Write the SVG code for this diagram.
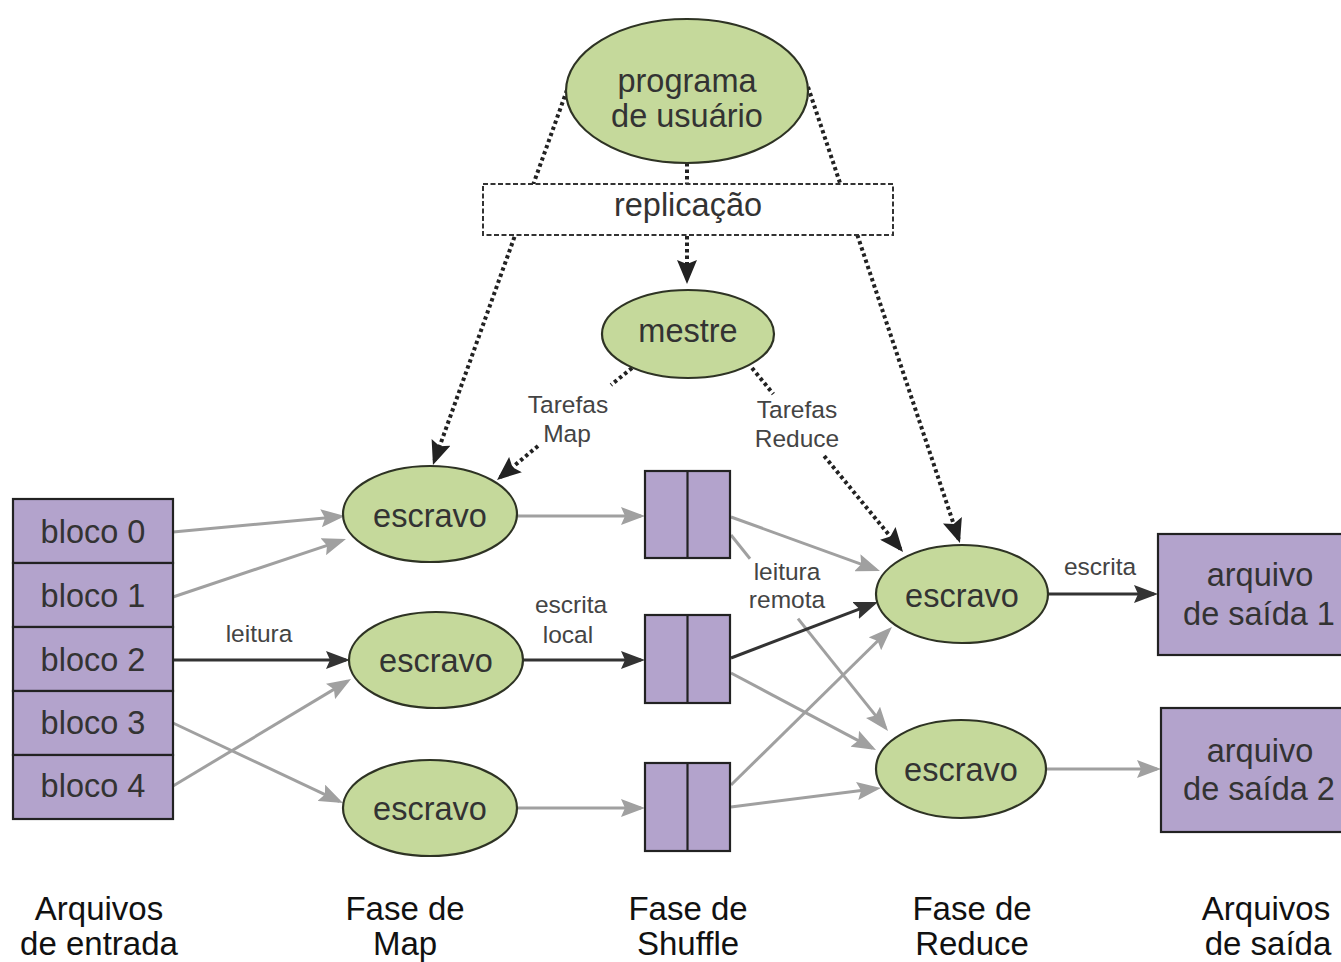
<svg xmlns="http://www.w3.org/2000/svg" width="1341" height="962" viewBox="0 0 1341 962">
<defs>
<style>
.ell{fill:#c5d99b;stroke:#2e3324;stroke-width:2.2}
.box{fill:#b3a3cc;stroke:#222;stroke-width:2.2}
.big{font-family:"Liberation Sans",Arial,sans-serif;font-size:32.5px;fill:#333;text-anchor:middle}
.lbl{font-family:"Liberation Sans",Arial,sans-serif;font-size:24.5px;fill:#444;text-anchor:middle}
.cap{font-family:"Liberation Sans",Arial,sans-serif;font-size:33px;fill:#111;text-anchor:middle}
.g{stroke:#a0a0a0;stroke-width:3;fill:none}
.k{stroke:#333;stroke-width:3;fill:none}
.d{stroke:#222;stroke-width:4;stroke-dasharray:3.4 3.1;fill:none}
</style>
<marker id="ag" markerWidth="24" markerHeight="18" refX="20" refY="9" orient="auto" markerUnits="userSpaceOnUse"><path d="M0,0 L24,9 L0,18 L4,9 Z" fill="#a0a0a0"/></marker>
<marker id="ak" markerWidth="24" markerHeight="18" refX="20" refY="9" orient="auto" markerUnits="userSpaceOnUse"><path d="M0,0 L24,9 L0,18 L4,9 Z" fill="#333"/></marker>
<marker id="ad" markerWidth="24" markerHeight="20" refX="20" refY="10" orient="auto" markerUnits="userSpaceOnUse"><path d="M0,0 L24,10 L0,20 L4,10 Z" fill="#222"/></marker>
</defs>
<rect width="1341" height="962" fill="#ffffff"/>

<g id="connectors">
<line class="d" x1="687" y1="163" x2="687" y2="184"/>
<line class="d" x1="687" y1="236" x2="687" y2="280" marker-end="url(#ad)"/>
<line class="d" x1="567" y1="90" x2="434.3" y2="461.2" marker-end="url(#ad)"/>
<line class="d" x1="808" y1="87" x2="958.7" y2="539.2" marker-end="url(#ad)"/>
<line class="d" x1="632" y1="368" x2="611" y2="385"/>
<line class="d" x1="538" y1="446" x2="500.1" y2="477.4" marker-end="url(#ad)"/>
<line class="d" x1="752" y1="368" x2="773.3" y2="394"/>
<line class="d" x1="824.2" y1="456" x2="900.5" y2="548.9" marker-end="url(#ad)"/>

<line class="g" x1="173" y1="532" x2="341" y2="516.4" marker-end="url(#ag)"/>
<line class="g" x1="173" y1="597" x2="342.2" y2="540.3" marker-end="url(#ag)"/>
<line class="k" x1="173" y1="660" x2="346" y2="660" marker-end="url(#ak)"/>
<line class="g" x1="173" y1="723" x2="339.4" y2="801.3" marker-end="url(#ag)"/>
<line class="g" x1="173" y1="786" x2="347.6" y2="681.1" marker-end="url(#ag)"/>

<line class="g" x1="517" y1="516" x2="641" y2="516" marker-end="url(#ag)"/>
<line class="k" x1="523" y1="660" x2="641" y2="660" marker-end="url(#ak)"/>
<line class="g" x1="516" y1="808" x2="641" y2="808" marker-end="url(#ag)"/>

<line class="g" x1="731" y1="517" x2="876.2" y2="569.6" marker-end="url(#ag)"/>
<line class="g" x1="731" y1="535" x2="750" y2="558.7"/>
<line class="g" x1="798" y1="618.6" x2="885.5" y2="727.9" marker-end="url(#ag)"/>
<line class="k" x1="731" y1="658" x2="874.3" y2="603.4" marker-end="url(#ak)"/>
<line class="g" x1="731" y1="673" x2="872.5" y2="748.1" marker-end="url(#ag)"/>
<line class="g" x1="731" y1="785" x2="889.1" y2="629.8" marker-end="url(#ag)"/>
<line class="g" x1="731" y1="807" x2="877" y2="788.5" marker-end="url(#ag)"/>

<line class="k" x1="1048" y1="594" x2="1154" y2="594" marker-end="url(#ak)"/>
<line class="g" x1="1046" y1="769" x2="1157" y2="769" marker-end="url(#ag)"/>

<text class="lbl" x="259" y="642">leitura</text>
<text class="lbl" x="571" y="613">escrita</text>
<text class="lbl" x="568" y="643">local</text>
<text class="lbl" x="787" y="580">leitura</text>
<text class="lbl" x="787" y="608">remota</text>
<text class="lbl" x="1100" y="575">escrita</text>
<text class="lbl" x="568" y="413">Tarefas</text>
<text class="lbl" x="567" y="442">Map</text>
<text class="lbl" x="797" y="418">Tarefas</text>
<text class="lbl" x="797" y="447">Reduce</text>
</g>

<g id="programa">
<ellipse class="ell" cx="687" cy="91" rx="121" ry="72"/>
<text class="big" x="687" y="92">programa</text>
<text class="big" x="687" y="127">de usuário</text>
</g>
<g id="replicacao">
<rect x="483" y="184" width="410" height="51" fill="#ffffff" stroke="#333" stroke-width="2" stroke-dasharray="5 2.5"/>
<text class="big" x="688" y="216">replicação</text>
</g>
<g id="mestre">
<ellipse class="ell" cx="688" cy="334" rx="86" ry="44"/>
<text class="big" x="688" y="342">mestre</text>
</g>

<g id="blocos">
<rect class="box" x="13" y="499" width="160" height="64"/>
<text class="big" x="93" y="543">bloco 0</text>
<rect class="box" x="13" y="563" width="160" height="64"/>
<text class="big" x="93" y="607">bloco 1</text>
<rect class="box" x="13" y="627" width="160" height="64"/>
<text class="big" x="93" y="671">bloco 2</text>
<rect class="box" x="13" y="691" width="160" height="64"/>
<text class="big" x="93" y="734">bloco 3</text>
<rect class="box" x="13" y="755" width="160" height="64"/>
<text class="big" x="93" y="797">bloco 4</text>
</g>

<g id="map1">
<ellipse class="ell" cx="430" cy="514" rx="87" ry="48"/>
<text class="big" x="430" y="527">escravo</text>
</g>
<g id="map2">
<ellipse class="ell" cx="436" cy="660" rx="87" ry="48"/>
<text class="big" x="436" y="672">escravo</text>
</g>
<g id="map3">
<ellipse class="ell" cx="430" cy="808" rx="87" ry="48"/>
<text class="big" x="430" y="820">escravo</text>
</g>

<g id="shuffle1">
<rect class="box" x="645" y="471" width="85" height="87"/>
<line x1="687.5" y1="471" x2="687.5" y2="558" stroke="#222" stroke-width="2.2"/>
</g>
<g id="shuffle2">
<rect class="box" x="645" y="615" width="85" height="88"/>
<line x1="687.5" y1="615" x2="687.5" y2="703" stroke="#222" stroke-width="2.2"/>
</g>
<g id="shuffle3">
<rect class="box" x="645" y="763" width="85" height="88"/>
<line x1="687.5" y1="763" x2="687.5" y2="851" stroke="#222" stroke-width="2.2"/>
</g>

<g id="reduce1">
<ellipse class="ell" cx="962" cy="594" rx="86" ry="49"/>
<text class="big" x="962" y="607">escravo</text>
</g>
<g id="reduce2">
<ellipse class="ell" cx="961" cy="769" rx="85" ry="49"/>
<text class="big" x="961" y="781">escravo</text>
</g>

<g id="saida1">
<rect class="box" x="1158" y="534" width="200" height="121"/>
<text class="big" x="1260" y="586">arquivo</text>
<text class="big" x="1259" y="625">de saída 1</text>
</g>
<g id="saida2">
<rect class="box" x="1161" y="708" width="200" height="124"/>
<text class="big" x="1260" y="762">arquivo</text>
<text class="big" x="1259" y="800">de saída 2</text>
</g>

<g id="legendas">
<text class="cap" x="99" y="920">Arquivos</text>
<text class="cap" x="99" y="955">de entrada</text>
<text class="cap" x="405" y="920">Fase de</text>
<text class="cap" x="405" y="955">Map</text>
<text class="cap" x="688" y="920">Fase de</text>
<text class="cap" x="688" y="955">Shuffle</text>
<text class="cap" x="972" y="920">Fase de</text>
<text class="cap" x="972" y="955">Reduce</text>
<text class="cap" x="1266" y="920">Arquivos</text>
<text class="cap" x="1268" y="955">de saída</text>
</g>
</svg>
